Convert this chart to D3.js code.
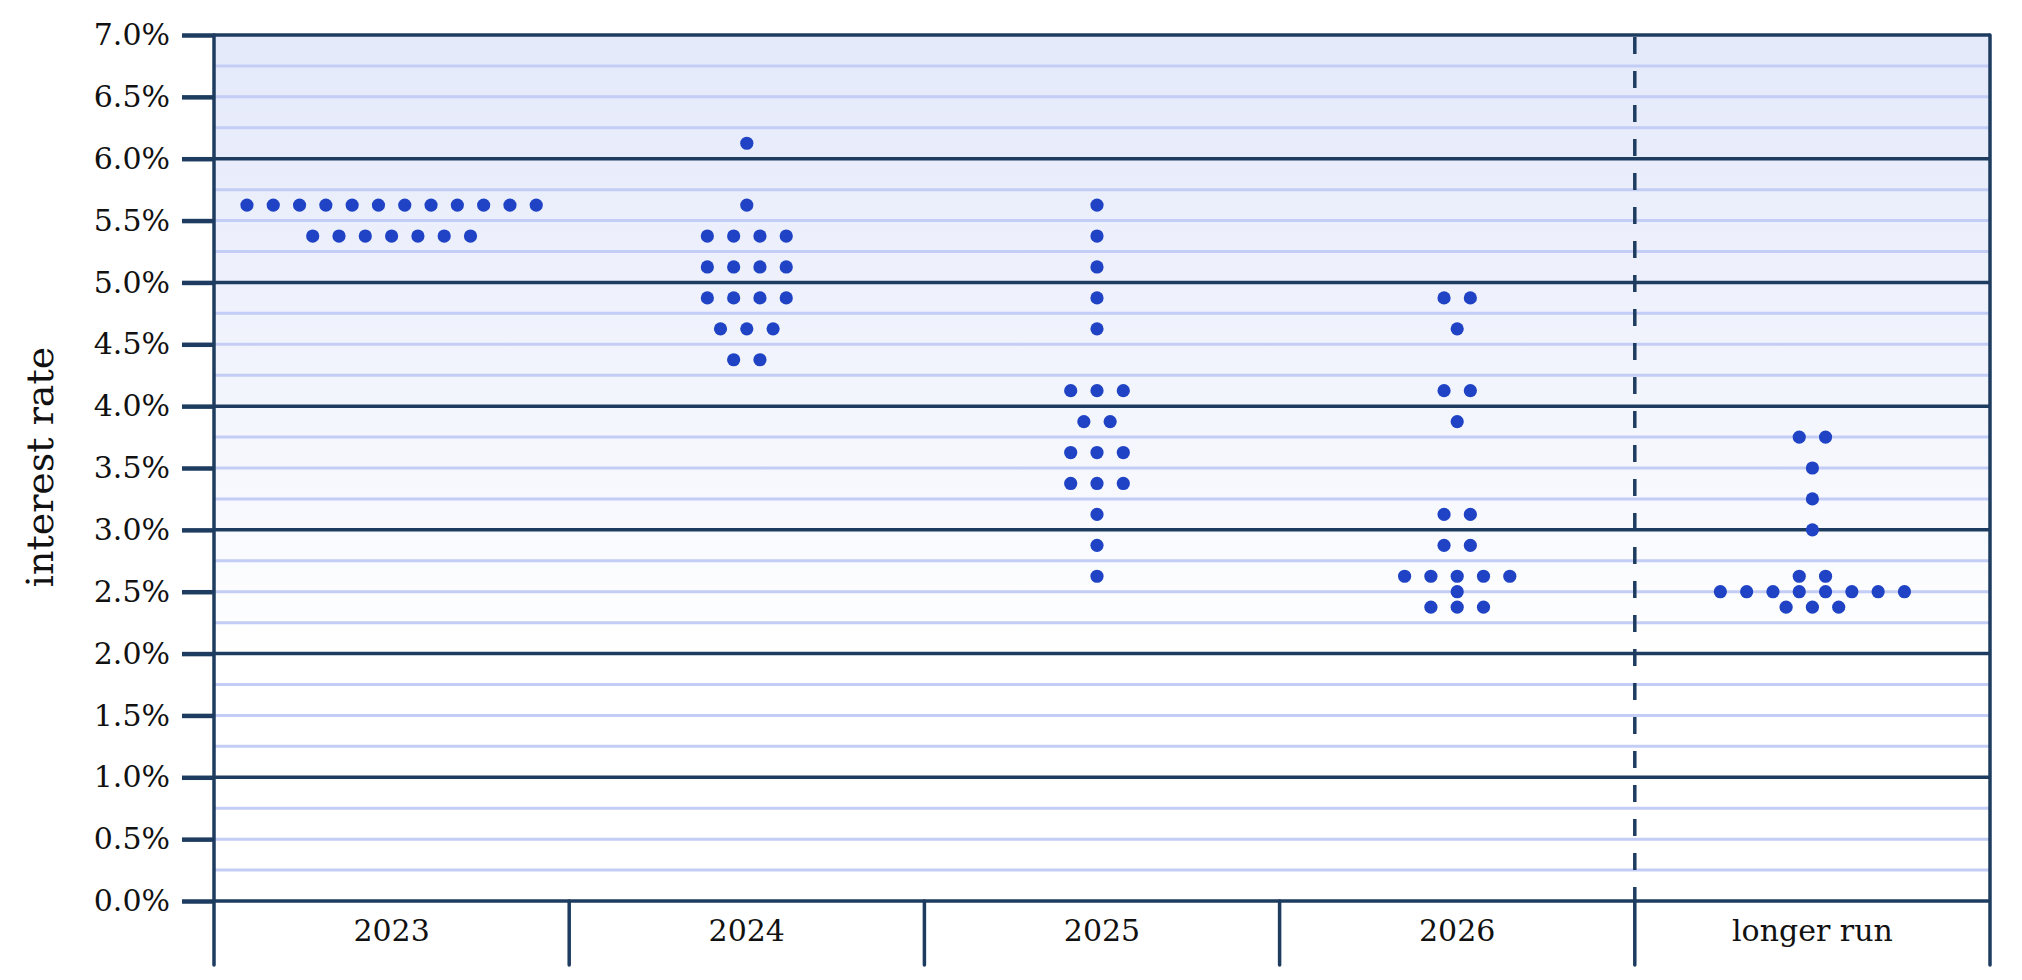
<!DOCTYPE html>
<html><head><meta charset="utf-8">
<script src="https://cdn.jsdelivr.net/npm/d3@7"></script>
<style>
html,body{margin:0;padding:0;background:#fff;}
svg{display:block;}
</style></head>
<body>
<svg id="chart" width="2022" height="980"></svg>
<script>
// ---- data ----
const categories = ["2023", "2024", "2025", "2026", "longer run"];
const yTickValues = [0, 0.5, 1, 1.5, 2, 2.5, 3, 3.5, 4, 4.5, 5, 5.5, 6, 6.5, 7];
const gridValues = d3.range(0, 7.001, 0.25);
// [rate, number of participants]
const dots2023 = [[5.625, 12], [5.375, 7]];
const dots2024 = [[6.125, 1], [5.625, 1], [5.375, 4], [5.125, 4], [4.875, 4], [4.625, 3], [4.375, 2]];
const dots2025 = [[5.625, 1], [5.375, 1], [5.125, 1], [4.875, 1], [4.625, 1], [4.125, 3], [3.875, 2], [3.625, 3], [3.375, 3], [3.125, 1], [2.875, 1], [2.625, 1]];
const dots2026 = [[4.875, 2], [4.625, 1], [4.125, 2], [3.875, 1], [3.125, 2], [2.875, 2], [2.625, 5], [2.5, 1], [2.375, 3]];
const dotsLonger = [[3.75, 2], [3.5, 1], [3.25, 1], [3.0, 1], [2.625, 2], [2.5, 8], [2.375, 3]];
const seriesByCategory = [dots2023, dots2024, dots2025, dots2026, dotsLonger];

// ---- layout ----
const L = 214, R = 1990, T = 35, B = 901;
const dark = "#1e3c5f", light = "#c3cdf5", dotColor = "#1f43c4";
const font = "'DejaVu Serif', 'Liberation Serif', serif";
const spacing = 26.3, radius = 6.6;
const dotNudge = [0, 0, -5, 0, 0]; // small horizontal shift of each column's dots (px)

const svg = d3.select("#chart");
const x = d3.scaleBand().domain(categories).range([L, R]).padding(0);
const y = d3.scaleLinear().domain([0, 7]).range([B, T]);

// background gradient
const defs = svg.append("defs");
const grad = defs.append("linearGradient").attr("id", "bg").attr("x1", 0).attr("x2", 0).attr("y1", 0).attr("y2", 1);
grad.append("stop").attr("offset", "0%").attr("stop-color", "#e4e9fa");
grad.append("stop").attr("offset", "45%").attr("stop-color", "#f4f6fd");
grad.append("stop").attr("offset", "72%").attr("stop-color", "#ffffff");
grad.append("stop").attr("offset", "100%").attr("stop-color", "#ffffff");
svg.append("rect").attr("x", L).attr("y", T).attr("width", R - L).attr("height", B - T).attr("fill", "url(#bg)");

// light grid lines
svg.append("g").selectAll("line").data(gridValues.filter(v => Math.abs(v - Math.round(v)) > 1e-6))
  .join("line")
  .attr("x1", L).attr("x2", R).attr("y1", d => y(d)).attr("y2", d => y(d))
  .attr("stroke", light).attr("stroke-width", 3);

// dark integer grid lines
svg.append("g").selectAll("line").data(gridValues.filter(v => Math.abs(v - Math.round(v)) < 1e-6))
  .join("line")
  .attr("x1", L).attr("x2", R).attr("y1", d => y(d)).attr("y2", d => y(d))
  .attr("stroke", dark).attr("stroke-width", 3.5);

// y axis
const yAxis = d3.axisLeft(y).tickValues(yTickValues).tickSize(32).tickPadding(12)
  .tickFormat(d => d3.format(".1%")(d / 100));
const gy = svg.append("g").attr("transform", `translate(${L},0)`).call(yAxis);
gy.select(".domain").remove();
gy.selectAll(".tick line").attr("stroke", dark).attr("stroke-width", 4.5);
gy.selectAll(".tick text").attr("font-family", font).attr("font-size", 30).attr("fill", "#111");

// vertical dividers below the axis
const dividers = categories.slice(1, 4).map(c => x(c));
svg.append("g").selectAll("line").data(dividers).join("line")
  .attr("x1", d => d).attr("x2", d => d).attr("y1", B).attr("y2", 965)
  .attr("stroke", dark).attr("stroke-width", 3.5).attr("stroke-linecap", "round");

// dashed divider before longer run
const xl = x("longer run");
svg.append("line").attr("x1", xl).attr("x2", xl).attr("y1", T + 2).attr("y2", B)
  .attr("stroke", dark).attr("stroke-width", 3.5).attr("stroke-dasharray", "17 17");
svg.append("line").attr("x1", xl).attr("x2", xl).attr("y1", B).attr("y2", 965)
  .attr("stroke", dark).attr("stroke-width", 3.5).attr("stroke-linecap", "round");

// left and right edges
[L, R].forEach(px => {
  svg.append("line").attr("x1", px).attr("x2", px).attr("y1", T).attr("y2", 965)
    .attr("stroke", dark).attr("stroke-width", 3.5).attr("stroke-linecap", "round");
});

// x labels
svg.append("g").selectAll("text").data(categories).join("text")
  .attr("x", d => x(d) + x.bandwidth() / 2).attr("y", 941)
  .attr("text-anchor", "middle").attr("font-family", font).attr("font-size", 30).attr("fill", "#111")
  .text(d => d);

// axis title
svg.append("text").attr("transform", "translate(53,467) rotate(-90)")
  .attr("text-anchor", "middle").attr("font-family", font).attr("font-size", 38).attr("fill", "#111")
  .text("interest rate");

// dots
const points = [];
seriesByCategory.forEach((rows, ci) => {
  rows.forEach(([rate, n]) => {
    for (let i = 0; i < n; i++) points.push({ci, cat: categories[ci], rate, off: i - (n - 1) / 2});
  });
});
svg.append("g").selectAll("circle").data(points).join("circle")
  .attr("cx", d => x(d.cat) + x.bandwidth() / 2 + d.off * spacing + dotNudge[d.ci])
  .attr("cy", d => y(d.rate))
  .attr("r", radius).attr("fill", dotColor);
</script>
</body></html>
